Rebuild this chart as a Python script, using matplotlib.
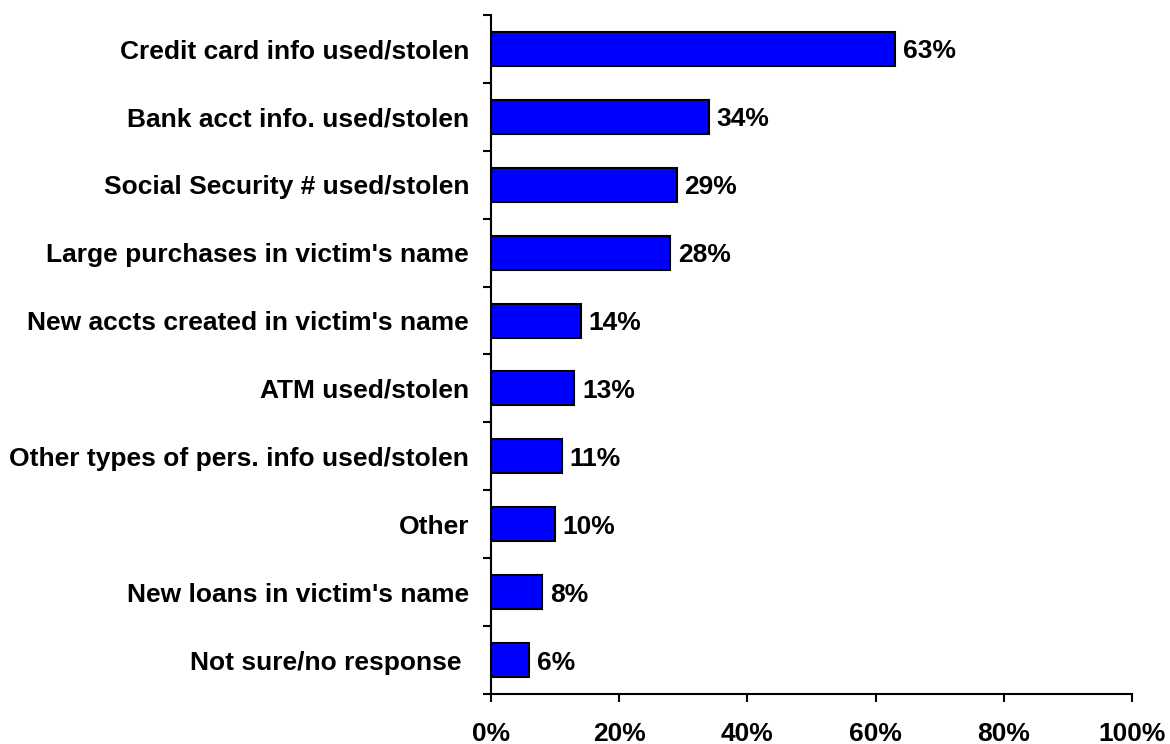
import numpy as np
from matplotlib import pyplot as plt
from matplotlib.ticker import FixedLocator

# survey results, top to bottom
categories = ["Credit card info used/stolen",
              "Bank acct info. used/stolen",
              "Social Security # used/stolen",
              "Large purchases in victim's name",
              "New accts created in victim's name",
              "ATM used/stolen",
              "Other types of pers. info used/stolen",
              "Other",
              "New loans in victim's name",
              "Not sure/no response "]
percents = [63, 34, 29, 28, 14, 13, 11, 10, 8, 6]
xticks = [0, 20, 40, 60, 80, 100]

plt.rcParams['font.family'] = ['Liberation Sans', 'DejaVu Sans']
plt.rcParams['font.weight'] = 'bold'
fs = 19

fig = plt.figure(figsize=(11.7, 7.44), dpi=100)
ax = fig.add_axes([491/1170, 1 - 694/744, 641/1170, 679/744])

n = len(categories)
ypos = np.arange(n)[::-1]
ax.barh(ypos, percents, height=0.5, color='#0000FF', edgecolor='black', linewidth=1.5)

for y, v in zip(ypos, percents):
    ax.text(v + 1.2, y, "%d%%" % v, va='center_baseline', ha='left',
            fontsize=fs, fontweight='bold')

ax.set_xlim(0, 100)
ax.set_ylim(-0.5, n - 0.5)
ax.set_xticks(xticks)
ax.set_xticklabels(["%d%%" % t for t in xticks], fontsize=fs, fontweight='bold')
ax.set_yticks(ypos)
ax.set_yticklabels(categories, fontsize=fs, fontweight='bold')
ax.yaxis.set_minor_locator(FixedLocator(np.arange(n + 1) - 0.5))

ax.tick_params(axis='y', which='major', length=0, pad=15.8)
ax.tick_params(axis='y', which='minor', length=5.8, width=1.5, direction='out')
ax.tick_params(axis='x', length=5.8, width=1.5, direction='out', pad=14.5)

for side in ['top', 'right']:
    ax.spines[side].set_visible(False)
for side in ['left', 'bottom']:
    ax.spines[side].set_linewidth(1.5)

plt.savefig('out.png', dpi=100)
